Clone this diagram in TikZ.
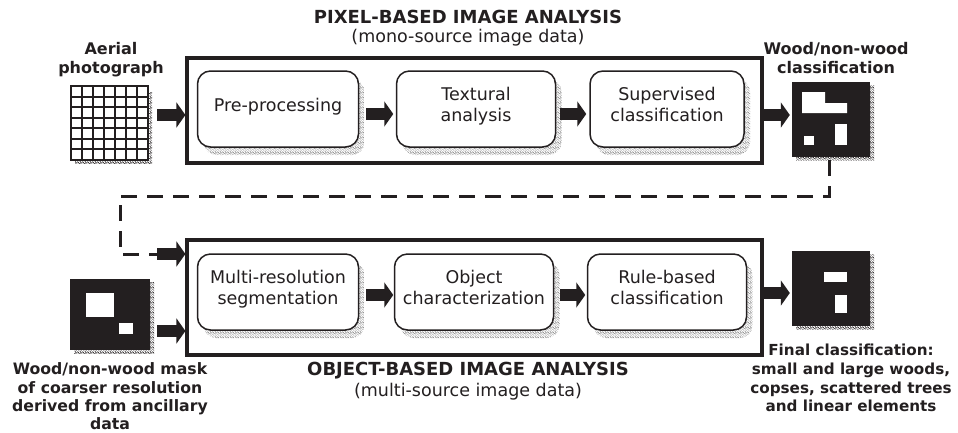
\documentclass[tikz,border=0pt]{standalone}
\usepackage{fontspec}
\setmainfont{DejaVu Sans}
\usetikzlibrary{arrows.meta,patterns,shadows}
\definecolor{ink}{HTML}{231F20}
\pgfdeclarepatternformonly{stipple}{\pgfqpoint{-1pt}{-1pt}}{\pgfqpoint{6pt}{6pt}}{\pgfqpoint{5pt}{5pt}}{
  \foreach \px/\py in {0.2/0.4,2.4/0.1,3.9/1.2,1.1/1.8,2.9/2.6,0.3/3.1,4.3/3.4,1.8/3.9,3.4/4.4,0.8/4.6}{
    \pgfpathcircle{\pgfpoint{\px pt}{\py pt}}{0.55pt}
  }
  \pgfusepath{fill}
}
\tikzset{
  x=1pt,y=-1pt,
  outerbox/.style={draw=ink,line width=3.2pt,minimum width=575pt,inner sep=0pt,fill=white},
  stepbox/.style={draw=ink,line width=1.5pt,rounded corners=13pt,fill=white,inner sep=0pt,align=center,
    text=ink,font=\fontsize{17.5}{21.5}\selectfont,text depth=9pt,
    general shadow={shadow xshift=6pt,shadow yshift=-8pt,pattern=stipple,pattern color=black!45}},
  blockarrow/.style={draw=ink,line width=11.5pt,-{Triangle[length=9pt,width=25pt]}},
  dashline/.style={draw=ink,line width=3pt,dash pattern=on 15.5pt off 10.5pt},
  mapbox/.style={fill=ink,inner sep=0pt,minimum width=78pt,minimum height=75pt,
    general shadow={shadow xshift=4pt,shadow yshift=-3.5pt,pattern=stipple,pattern color=ink}},
  hole/.style={fill=white,draw=none},
  head/.style={text=ink,font=\fontsize{16}{19}\selectfont\bfseries,align=center,inner sep=0pt},
  finalhead/.style={text=ink,font=\fontsize{15.2}{18.7}\selectfont\bfseries,align=center,inner sep=0pt},
  maskhead/.style={text=ink,font=\fontsize{15.7}{18.4}\selectfont\bfseries,align=center,inner sep=0pt},
  title/.style={text=ink,font=\fontsize{18}{20}\selectfont\bfseries,align=center,inner sep=0pt},
  subtitle/.style={text=ink,font=\fontsize{17.5}{20}\selectfont,align=center,inner sep=0pt},
}
\begin{document}
\begin{tikzpicture}
\useasboundingbox (0,0) rectangle (958,432);
% frames
\node[outerbox,minimum height=105pt] (topframe) at (474.5,110.5) {};
\node[outerbox,minimum height=115pt] (botframe) at (474.5,297.5) {};
% titles
\node[title] (t1) at (468,16.5) {PIXEL-BASED IMAGE ANALYSIS};
\node[subtitle] (t1s) at (468,38) {(mono-source image data)};
\node[title] (t2) at (468,370.5) {OBJECT-BASED IMAGE ANALYSIS};
\node[subtitle] (t2s) at (468,392) {(multi-source image data)};
% process boxes
\node[stepbox,minimum width=161pt,minimum height=76pt] (pre) at (278,109) {Pre-processing};
\node[stepbox,minimum width=159pt,minimum height=76pt] (tex) at (476,109) {Textural\\analysis};
\node[stepbox,minimum width=154pt,minimum height=76pt] (sup) at (667,109) {Supervised\\classification};
\node[stepbox,minimum width=161pt,minimum height=76pt] (mul) at (278,292) {Multi-resolution\\segmentation};
\node[stepbox,minimum width=159pt,minimum height=76pt] (obj) at (474,292) {Object\\characterization};
\node[stepbox,minimum width=159pt,minimum height=76pt] (rul) at (667,292) {Rule-based\\classification};
% aerial grid
\fill[pattern=stipple,pattern color=ink] (75,92) rectangle (152,163.5);
\node[fill=white,draw=none,inner sep=0pt,minimum width=77pt,minimum height=74pt] (photo) at (109.5,123) {};
\draw[ink,line width=2pt,xstep=11pt,ystep=10.57pt,shift={(71,86)}] (0,0) grid (77,74);
\draw[ink,line width=2pt] (71,86) rectangle (148,160);
% maps
\node[mapbox] (wood) at (831,119.5) {};
\fill[hole] (802,92) -- (825,92) -- (825,103) -- (847,103) -- (847,113) -- (802,113) -- cycle;
\fill[hole] (804,136) rectangle (814,145);
\fill[hole] (835,124) rectangle (847,145);
\node[mapbox] (final) at (831,288.5) {};
\fill[hole] (824,272) rectangle (847,282);
\fill[hole] (835,295) rectangle (847,313);
\node[mapbox,minimum width=80pt,minimum height=71pt] (mask) at (110,314.5) {};
\fill[hole] (86,293) rectangle (114,317);
\fill[hole] (119,323) rectangle (133,334);
% labels
\node[head] (lphoto) at (111,59.5) {Aerial\\photograph};
\node[head] (lwood) at (836,58.5) {Wood/non-wood\\classification};
\node[maskhead] (lmask) at (110,396.5) {Wood/non-wood mask\\of coarser resolution\\derived from ancillary\\data};
\node[finalhead] (lfinal) at (851,378) {Final classification:\\small and large woods,\\copses, scattered trees\\and linear elements};
% arrows
\draw[blockarrow] ([xshift=9pt,yshift=8pt]photo.east) -- ([yshift=-4.5pt]topframe.west);
\draw[blockarrow] ([xshift=7pt,yshift=-5pt]pre.east) -- ([xshift=-2.5pt,yshift=-5pt]tex.west);
\draw[blockarrow] ([xshift=3.5pt,yshift=-5pt]tex.east) -- ([xshift=-3pt,yshift=-5pt]sup.west);
\draw[blockarrow] ([yshift=-4.5pt]topframe.east) -- ([xshift=-2pt,yshift=4.5pt]wood.west);
\draw[blockarrow] ([xshift=7pt,yshift=-3pt]mul.east) -- ([xshift=-0.5pt,yshift=-3pt]obj.west);
\draw[blockarrow] ([xshift=6pt,yshift=-3pt]obj.east) -- ([xshift=-1.5pt,yshift=-3pt]rul.west);
\draw[blockarrow] ([yshift=4.5pt]botframe.east) -- ([xshift=-2pt,yshift=-4.5pt]final.west);
\draw[blockarrow] ([xshift=7pt,yshift=-16.5pt]mask.east) -- ([yshift=-33.5pt]botframe.west);
% dashed feedback
\coordinate (d1) at ([xshift=-2pt,yshift=-3pt]wood.south);
\coordinate (d2) at (829,196);
\coordinate (d3) at (120,196);
\coordinate (d4) at (120,254);
\coordinate (d5) at (157,254);
\draw[dashline] (d1) -- (d2) -- (d3) -- (d4) -- (d5);
\draw[blockarrow] (d5) -- ([yshift=43.5pt]botframe.west);
\end{tikzpicture}
\end{document}
